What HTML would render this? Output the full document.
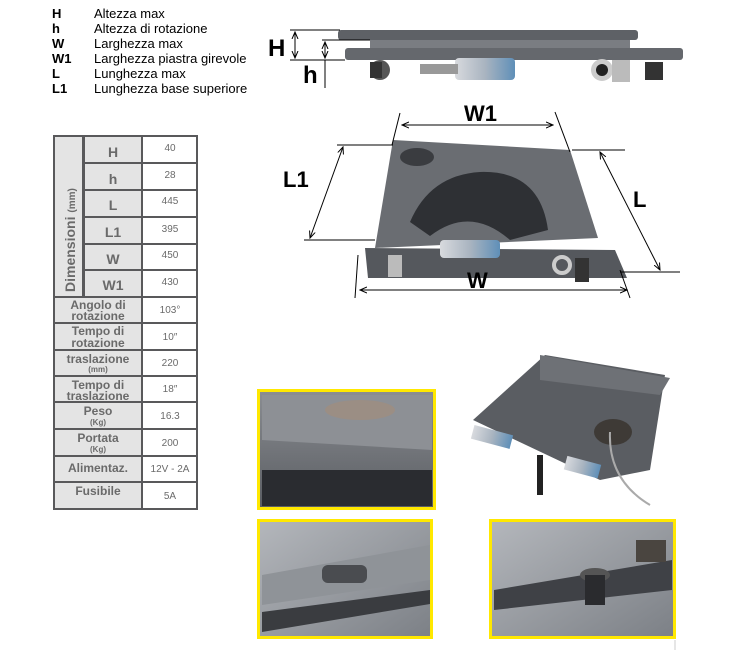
<!DOCTYPE html>
<html><head><meta charset="utf-8"><style>
html,body{margin:0;padding:0;background:#fff;}
body{width:740px;height:650px;position:relative;overflow:hidden;font-family:"Liberation Sans",sans-serif;}
</style></head><body>
<svg width="740" height="650" viewBox="0 0 740 650" xmlns="http://www.w3.org/2000/svg" style="position:absolute;left:0;top:0">
<defs>
<linearGradient id="g1" x1="0" y1="0" x2="0" y2="1"><stop offset="0" stop-color="#8a8d92"/><stop offset="1" stop-color="#5a5d62"/></linearGradient>
<linearGradient id="g2" x1="0" y1="0" x2="1" y2="1"><stop offset="0" stop-color="#b4b7bc"/><stop offset="1" stop-color="#7c8086"/></linearGradient>
<linearGradient id="g3" x1="0" y1="0" x2="1" y2="0"><stop offset="0" stop-color="#d8dade"/><stop offset="0.5" stop-color="#a9b4c0"/><stop offset="1" stop-color="#5f8fb8"/></linearGradient>
<marker id="ar" markerWidth="8" markerHeight="8" refX="7" refY="4" orient="auto"><path d="M0,1 L7,4 L0,7" fill="none" stroke="#000" stroke-width="1"/></marker>
<marker id="al" markerWidth="8" markerHeight="8" refX="1" refY="4" orient="auto"><path d="M8,1 L1,4 L8,7" fill="none" stroke="#000" stroke-width="1"/></marker>
</defs>
<!-- legend -->
<g font-size="13" fill="#000">
<text x="52" y="18" font-weight="bold">H</text><text x="94" y="18">Altezza max</text>
<text x="52" y="33" font-weight="bold">h</text><text x="94" y="33">Altezza di rotazione</text>
<text x="52" y="48" font-weight="bold">W</text><text x="94" y="48">Larghezza max</text>
<text x="52" y="63" font-weight="bold">W1</text><text x="94" y="63">Larghezza piastra girevole</text>
<text x="52" y="78" font-weight="bold">L</text><text x="94" y="78">Lunghezza max</text>
<text x="52" y="93" font-weight="bold">L1</text><text x="94" y="93">Lunghezza base superiore</text>
</g>
<!-- top device -->
<rect x="338" y="30" width="300" height="10" rx="3" fill="#5e6166"/>
<rect x="370" y="40" width="260" height="8" fill="#7a7d82"/>
<rect x="345" y="48" width="338" height="12" rx="3" fill="#65686d"/>
<circle cx="380" cy="70" r="10" fill="#555"/>
<rect x="370" y="62" width="12" height="16" fill="#333"/>
<rect x="455" y="58" width="60" height="22" rx="4" fill="url(#g3)"/>
<rect x="420" y="64" width="38" height="10" fill="#999"/>
<circle cx="602" cy="70" r="11" fill="#ccc"/><circle cx="602" cy="70" r="6" fill="#222"/>
<rect x="612" y="60" width="18" height="22" fill="#bbb"/>
<rect x="645" y="62" width="18" height="18" fill="#333"/>
<line x1="290" y1="30" x2="340" y2="30" stroke="#000"/>
<line x1="290" y1="60" x2="345" y2="60" stroke="#000"/>
<line x1="322" y1="40" x2="370" y2="40" stroke="#000"/>
<line x1="295" y1="32" x2="295" y2="58" stroke="#000" marker-start="url(#al)" marker-end="url(#ar)"/>
<line x1="325" y1="42" x2="325" y2="58" stroke="#000" marker-start="url(#al)" marker-end="url(#ar)"/>
<line x1="325" y1="60" x2="325" y2="88" stroke="#000"/>
<text x="268" y="56" font-size="24" font-weight="bold">H</text>
<text x="303" y="83" font-size="24" font-weight="bold">h</text>
<!-- middle device -->
<polygon points="365,248 615,250 627,278 368,278" fill="#55585d"/>
<polygon points="393,140 570,150 598,238 375,248" fill="#6a6d72"/>
<path d="M410,222 Q430,175 480,172 Q540,170 548,230 L510,240 Q470,205 430,236 Z" fill="#2e3034"/>
<ellipse cx="417" cy="157" rx="17" ry="9" fill="#3a3c40"/>
<rect x="440" y="240" width="60" height="18" rx="4" fill="url(#g3)"/>
<rect x="388" y="255" width="14" height="22" fill="#bbb"/>
<circle cx="562" cy="265" r="8" fill="none" stroke="#ccc" stroke-width="4"/>
<rect x="575" y="258" width="14" height="24" fill="#333"/>
<line x1="400" y1="113" x2="392" y2="145" stroke="#000"/>
<line x1="555" y1="112" x2="570" y2="152" stroke="#000"/>
<line x1="402" y1="125" x2="553" y2="125" stroke="#000" marker-start="url(#al)" marker-end="url(#ar)"/>
<text x="464" y="121" font-size="22" font-weight="bold">W1</text>
<line x1="337" y1="145" x2="393" y2="145" stroke="#000"/>
<line x1="304" y1="240" x2="375" y2="240" stroke="#000"/>
<line x1="343" y1="147" x2="310" y2="238" stroke="#000" marker-start="url(#al)" marker-end="url(#ar)"/>
<text x="283" y="187" font-size="22" font-weight="bold">L1</text>
<line x1="572" y1="150" x2="625" y2="150" stroke="#000"/>
<line x1="620" y1="272" x2="680" y2="272" stroke="#000"/>
<line x1="600" y1="152" x2="660" y2="270" stroke="#000" marker-start="url(#al)" marker-end="url(#ar)"/>
<text x="633" y="207" font-size="22" font-weight="bold">L</text>
<line x1="358" y1="255" x2="355" y2="298" stroke="#000"/>
<line x1="620" y1="270" x2="630" y2="298" stroke="#000"/>
<line x1="360" y1="290" x2="627" y2="290" stroke="#000" marker-start="url(#al)" marker-end="url(#ar)"/>
<text x="467" y="288" font-size="22" font-weight="bold">W</text>
<!-- table -->
<rect x="53" y="135" width="145" height="375" fill="#59595b"/>
<rect x="55" y="137" width="27" height="159" fill="#e4e4e4"/>
<text transform="translate(75,292) rotate(-90)" font-size="14" font-weight="bold" fill="#6a6a6a">Dimensioni <tspan font-size="10">(mm)</tspan></text>
<g font-weight="bold" fill="#6a6a6a" text-anchor="middle">
<rect x="85" y="137" width="56" height="25" fill="#e4e4e4"/><rect x="143" y="137" width="53" height="25" fill="#fff"/>
<text x="113" y="157" font-size="14">H</text>
<rect x="85" y="164" width="56" height="25" fill="#e4e4e4"/><rect x="143" y="164" width="53" height="25" fill="#fff"/>
<text x="113" y="184" font-size="14">h</text>
<rect x="85" y="191" width="56" height="25" fill="#e4e4e4"/><rect x="143" y="191" width="53" height="25" fill="#fff"/>
<text x="113" y="210" font-size="14">L</text>
<rect x="85" y="218" width="56" height="25" fill="#e4e4e4"/><rect x="143" y="218" width="53" height="25" fill="#fff"/>
<text x="113" y="237" font-size="14">L1</text>
<rect x="85" y="245" width="56" height="24" fill="#e4e4e4"/><rect x="143" y="245" width="53" height="24" fill="#fff"/>
<text x="113" y="264" font-size="14">W</text>
<rect x="85" y="271" width="56" height="25" fill="#e4e4e4"/><rect x="143" y="271" width="53" height="25" fill="#fff"/>
<text x="113" y="290" font-size="14">W1</text>
<rect x="55" y="298" width="86" height="24" fill="#e4e4e4"/><rect x="143" y="298" width="53" height="24" fill="#fff"/>
<text x="98" y="309" font-size="12">Angolo di</text><text x="98" y="320" font-size="12">rotazione</text>
<rect x="55" y="324" width="86" height="25" fill="#e4e4e4"/><rect x="143" y="324" width="53" height="25" fill="#fff"/>
<text x="98" y="335" font-size="12">Tempo di</text><text x="98" y="347" font-size="12">rotazione</text>
<rect x="55" y="351" width="86" height="24" fill="#e4e4e4"/><rect x="143" y="351" width="53" height="24" fill="#fff"/>
<text x="98" y="363" font-size="12">traslazione</text><text x="98" y="372" font-size="8">(mm)</text>
<rect x="55" y="377" width="86" height="24" fill="#e4e4e4"/><rect x="143" y="377" width="53" height="24" fill="#fff"/>
<text x="98" y="389" font-size="12">Tempo di</text><text x="98" y="400" font-size="12">traslazione</text>
<rect x="55" y="403" width="86" height="25" fill="#e4e4e4"/><rect x="143" y="403" width="53" height="25" fill="#fff"/>
<text x="98" y="415" font-size="12">Peso</text><text x="98" y="425" font-size="8">(Kg)</text>
<rect x="55" y="430" width="86" height="25" fill="#e4e4e4"/><rect x="143" y="430" width="53" height="25" fill="#fff"/>
<text x="98" y="442" font-size="12">Portata</text><text x="98" y="452" font-size="8">(Kg)</text>
<rect x="55" y="457" width="86" height="24" fill="#e4e4e4"/><rect x="143" y="457" width="53" height="24" fill="#fff"/>
<text x="98" y="472" font-size="12">Alimentaz.</text>
<rect x="55" y="483" width="86" height="25" fill="#e4e4e4"/><rect x="143" y="483" width="53" height="25" fill="#fff"/>
<text x="98" y="495" font-size="12">Fusibile</text>
</g>
<g font-size="10" fill="#6a6a6a" text-anchor="middle">
<text x="170" y="151">40</text><text x="170" y="178">28</text><text x="170" y="204">445</text><text x="170" y="232">395</text>
<text x="170" y="258">450</text><text x="170" y="285">430</text><text x="170" y="313">103°</text><text x="170" y="340">10″</text>
<text x="170" y="366">220</text><text x="170" y="392">18″</text><text x="170" y="419">16.3</text><text x="170" y="446">200</text>
<text x="170" y="472">12V - 2A</text><text x="170" y="499">5A</text>
</g>
<!-- bottom right device -->
<polygon points="473,420 545,355 665,375 650,470 600,480" fill="#5a5d62"/>
<polygon points="540,355 670,378 660,395 540,380" fill="#6e7176"/>
<ellipse cx="613" cy="432" rx="19" ry="13" fill="#3e3a36"/>
<rect x="472" y="430" width="40" height="14" fill="url(#g3)" transform="rotate(15 492 437)"/>
<rect x="565" y="460" width="35" height="14" fill="url(#g3)" transform="rotate(15 582 467)"/>
<rect x="537" y="455" width="6" height="40" fill="#222"/>
<path d="M610,432 Q608,480 650,505" fill="none" stroke="#aaa" stroke-width="2"/>
<!-- photo frames -->
<rect x="258.5" y="390.5" width="176" height="118" fill="url(#g1)" stroke="#ffe800" stroke-width="3"/>
<polygon points="262,395 432,395 432,450 262,440" fill="#8d9095"/>
<ellipse cx="360" cy="410" rx="35" ry="10" fill="#9b8e84"/>
<rect x="262" y="470" width="170" height="36" fill="#2a2c30"/>
<rect x="258.5" y="520.5" width="173" height="117" fill="url(#g2)" stroke="#ffe800" stroke-width="3"/>
<polygon points="262,575 430,545 430,580 262,605" fill="#8f9398"/>
<polygon points="262,612 430,590 430,604 262,632" fill="#3a3c40"/>
<rect x="322" y="565" width="45" height="18" rx="6" fill="#4a4c50"/>
<rect x="490.5" y="520.5" width="184" height="117" fill="url(#g2)" stroke="#ffe800" stroke-width="3"/>
<polygon points="494,590 672,560 672,590 494,610" fill="#3f4146"/>
<ellipse cx="595" cy="575" rx="15" ry="7" fill="#555"/>
<rect x="585" y="575" width="20" height="30" fill="#2a2b2e"/>
<rect x="636" y="540" width="30" height="22" fill="#4a4540"/>
<line x1="675" y1="640" x2="675" y2="650" stroke="#ccc"/>
</svg>
</body></html>
